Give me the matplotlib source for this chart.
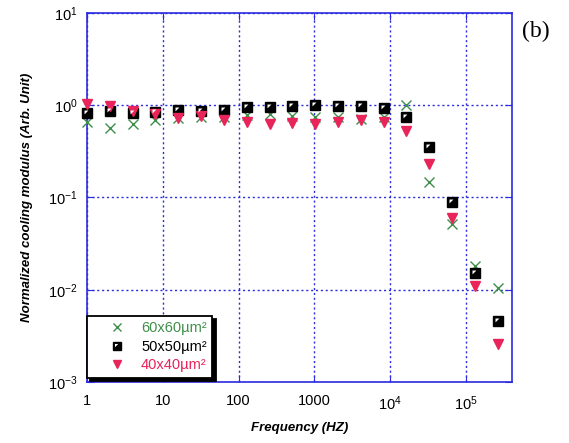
import matplotlib
matplotlib.use("Agg")
import matplotlib.pyplot as plt

plt.rcParams["font.family"] = ["Liberation Sans", "DejaVu Sans"]
plt.rcParams["mathtext.fontset"] = "custom"
plt.rcParams["mathtext.rm"] = "Liberation Sans"
plt.rcParams["mathtext.default"] = "regular"

# frequencies: powers of two, 1 Hz .. 262144 Hz
freq = [1, 2, 4, 8, 16, 32, 64, 128, 256, 512, 1024, 2048, 4096, 8192,
        16384, 32768, 65536, 131072, 262144]

mod_60 = [0.65, 0.56, 0.62, 0.70, 0.72, 0.74, 0.74, 0.79, 0.80, 0.77, 0.75,
          0.75, 0.71, 0.75, 1.00, 0.147, 0.052, 0.018, 0.0104]
mod_50 = [0.82, 0.87, 0.83, 0.84, 0.89, 0.87, 0.88, 0.95, 0.95, 0.98, 1.00,
          0.97, 0.97, 0.94, 0.75, 0.356, 0.090, 0.0151, 0.0046]
mod_40 = [1.03, 0.98, 0.86, 0.80, 0.72, 0.76, 0.69, 0.65, 0.63, 0.64, 0.62,
          0.66, 0.69, 0.66, 0.53, 0.229, 0.060, 0.011, 0.0026]

labels = ["60x60µm²", "50x50µm²", "40x40µm²"]
xtick_vals = [1, 10, 100, 1000, 1e4, 1e5]
xtick_text = ["1", "10", "100", "1000", "$10^{4}$", "$10^{5}$"]
ytick_vals = [1e-3, 1e-2, 1e-1, 1, 10]
ytick_text = ["$10^{-3}$", "$10^{-2}$", "$10^{-1}$", "$10^{0}$", "$10^{1}$"]

green = "#3f8f4a"
red = "#e8245a"
blue = "#2b2be0"

fig = plt.figure(figsize=(5.69, 4.43), dpi=100)
ax = fig.add_axes([0.1529, 0.1377, 0.747, 0.833])

ax.set_xscale("log")
ax.set_yscale("log")
ax.set_xlim(1, 4.05e5)
ax.set_ylim(1e-3, 10)

h60, = ax.plot(freq, mod_60, ls="none", marker="x", ms=7, mew=1.0,
               color=green, clip_on=False, zorder=3)
# half-filled square: black square with a white corner triangle on top
sq, = ax.plot(freq, mod_50, ls="none", marker="s", ms=6.6, mfc="black",
              mec="black", clip_on=False, zorder=3)
corner, = ax.plot(freq, mod_50, ls="none",
                  marker=[(-1, 1), (0.3, 1), (-1, -0.3)], ms=4.3,
                  mfc="white", mec="none", clip_on=False, zorder=3.5)
h40, = ax.plot(freq, mod_40, ls="none", marker="v", ms=7.5, color=red,
               clip_on=False, zorder=3)

ax.set_xticks(xtick_vals)
ax.set_xticklabels(xtick_text)
ax.set_yticks(ytick_vals)
ax.set_yticklabels(ytick_text)
ax.minorticks_off()
ax.tick_params(which="both", direction="in", length=5, color=blue,
               top=True, right=True, labelsize=10.5, pad=7)
ax.tick_params(axis="x", pad=9)

ax.grid(True, which="major", color=blue, ls=(0, (1.5, 2)), lw=1.0)
for sp in ax.spines.values():
    sp.set_color(blue)
    sp.set_linewidth(1.2)

ax.set_xlabel("Frequency (HZ)", fontsize=9.5, fontweight="bold", style="italic")
ax.set_ylabel("Normalized cooling modulus (Arb. Unit)", fontsize=9.5,
              fontweight="bold", style="italic")
ax.xaxis.set_label_coords(0.5, -0.108)
ax.yaxis.set_label_coords(-0.128, 0.5)

leg = ax.legend([h60, (sq, corner), h40], labels,
                loc="lower left", bbox_to_anchor=(0, 0.011), borderaxespad=0,
                fontsize=10.5, fancybox=False, edgecolor="black",
                framealpha=1, handlelength=3.3, handletextpad=0.0,
                borderpad=0.4, labelspacing=0.3, markerscale=0.85,
                shadow={"ox": 2.5, "oy": -2.5, "color": "black", "alpha": 1})
leg.get_frame().set_linewidth(1.3)
for txt, c in zip(leg.get_texts(), [green, "black", red]):
    txt.set_color(c)

fig.text(0.918, 0.93, "(b)", fontsize=17, family="Liberation Serif",
         ha="left", va="center")

fig.savefig("out.png", dpi=100)
